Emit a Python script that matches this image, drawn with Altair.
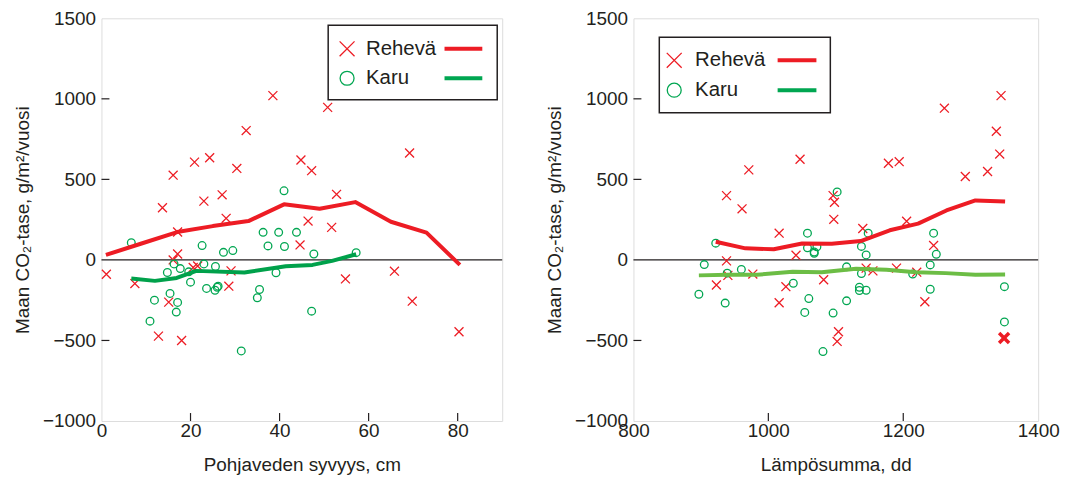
import altair as alt
import pandas as pd

# ---------------- data ----------------
# Left panel: groundwater depth (cm) vs soil CO2 balance
left_reheva_x = [38.5, 50.8, 32.5, 69.2, 16.1, 20.9, 24.3, 30.4, 44.8, 47.2, 13.7, 23.0, 27.1, 17.1,
                 28.0, 46.4, 52.8, 51.7, 44.6, 17.1, 16.1, 20.6, 21.6, 29.1, 1.1, 7.5, 28.6, 54.8,
                 65.8, 69.8, 15.1, 12.8, 18.0, 80.3]
left_reheva_y = [1020, 947, 803, 664, 526, 607, 634, 568, 620, 554, 324, 365, 404, 173,
                 258, 241, 407, 202, 93, 37, 0, -47, -38, -68, -89, -147, -163, -118,
                 -70, -256, -262, -473, -500, -446]
left_karu_x = [41.0, 6.7, 22.6, 36.3, 39.8, 43.8, 37.4, 41.1, 27.4, 29.5, 47.7, 57.2, 16.3, 17.7,
               19.6, 23.0, 25.6, 14.8, 20.0, 39.2, 23.6, 25.5, 26.2, 26.0, 15.4, 11.9, 17.1, 16.8,
               10.9, 35.5, 35.0, 47.2, 31.4]
left_karu_y = [429, 107, 89, 171, 171, 171, 87, 83, 47, 58, 37, 45, -25, -54,
               -74, -25, -41, -78, -138, -80, -177, -188, -163, -170, -208, -250, -264, -324,
               -380, -184, -235, -318, -565]
left_reheva_line_x = [1, 9, 17, 25, 33, 41, 49, 57, 65, 73, 80.5]
left_reheva_line_y = [31, 102, 173, 210, 241, 345, 318, 359, 237, 169, -31]
left_karu_line_x = [6.7, 12.0, 16.9, 21.3, 32.1, 41.4, 47.4, 51.8, 57.2]
left_karu_line_y = [-116, -130, -112, -68, -78, -39, -31, -6, 35]

# Right panel: temperature sum (dd) vs soil CO2 balance
right_reheva_x = [1345, 1261, 1338, 1343, 1325, 1292, 1178, 1194, 1047, 971, 938, 961, 1096, 1098,
                  1097, 1016, 1041, 1140, 1205, 1245, 938, 940, 923, 977, 1026, 1016, 1082, 1145,
                  1155, 1190, 1220, 1232, 1104, 1102]
right_reheva_y = [1020, 942, 799, 657, 549, 518, 600, 610, 625, 559, 399, 317, 399, 358,
                  252, 166, 29, 195, 240, 90, -6, -96, -156, -88, -166, -266, -123, -51,
                  -68, -51, -76, -260, -446, -506]
right_bold_x = [1349.5]
right_bold_y = [-485]
right_karu_x = [1102, 922, 1058, 1058, 1072, 1068, 1068, 1148, 1138, 1145, 1245, 1249, 905, 939,
                960, 1116, 1138, 1214, 1240, 1037, 1135, 1135, 1145, 1240, 897, 936, 1060, 1054,
                1096, 1116, 1350, 1350, 1081]
right_karu_y = [422, 104, 166, 75, 82, 49, 41, 166, 84, 31, 166, 35, -29, -82,
                -59, -43, -84, -88, -31, -145, -170, -190, -188, -182, -213, -268, -240, -326,
                -330, -254, -166, -385, -569]
right_reheva_line_x = [922, 966, 1008, 1050, 1094, 1137, 1180, 1222, 1264, 1307, 1351]
right_reheva_line_y = [113, 72, 66, 102, 100, 117, 184, 225, 307, 369, 362]
right_karu_line_x = [897, 940, 983, 1036, 1079, 1130, 1175, 1219, 1263, 1307, 1351]
right_karu_line_y = [-96, -92, -92, -74, -76, -55, -61, -76, -82, -92, -90]

y_ticks = [-1000, -500, 0, 500, 1000, 1500]
left_x_ticks = [0, 20, 40, 60, 80]
right_x_ticks = [800, 1000, 1200, 1400]
legend_labels = ["Rehevä", "Karu"]
y_title = "Maan CO₂-tase, g/m²/vuosi"

# ---------------- styling ----------------
RED = "#ed1c24"
GREEN = "#00a651"
GREEN_LINE_L = "#00a14b"
GREEN_LINE_R = "#6cbd45"
INK = "#231f20"
FONT = "Liberation Sans"
X_PATH = "M-1,-1L1,1M-1,1L1,-1"
H = 405


def enc_x(dom, ticks, title):
    return alt.X("x:Q", scale=alt.Scale(domain=dom, nice=False, zero=False),
                 axis=alt.Axis(values=ticks, title=title, format="d", ticks=False, domain=False,
                               grid=False, labelPadding=1, titlePadding=15, labelFontSize=19,
                               titleFontSize=19, labelColor=INK, titleColor=INK,
                               titleFontWeight="normal", labelFlush=False, labelOverlap=False,
                               labelFont=FONT, titleFont=FONT))


def enc_y():
    return alt.Y("y:Q", scale=alt.Scale(domain=[-1000, 1500], nice=False, zero=False),
                 axis=alt.Axis(values=y_ticks, title=y_title, format="d", ticks=False, domain=False,
                               grid=False, labelPadding=6, titlePadding=10, labelFontSize=19,
                               titleFontSize=19, labelColor=INK, titleColor=INK,
                               titleFontWeight="normal", labelFlush=False, labelOverlap=False,
                               labelFont=FONT, titleFont=FONT))


def df(xs, ys):
    return pd.DataFrame({"x": xs, "y": ys})


def panel(W, xdom, xticks, xtitle, rx, ry, kx, ky, rlx, rly, klx, kly, green_line_color,
          leg, bold=None):
    X = enc_x(xdom, xticks, xtitle)
    Y = enc_y()
    one = pd.DataFrame({"x": [xdom[0]], "y": [0]})
    layers = []
    # zero line
    layers.append(alt.Chart(one).mark_rule(color=INK, strokeWidth=1.2).encode(y=Y))
    # inside ticks
    layers.append(alt.Chart(pd.DataFrame({"y": [-500, 500, 1000]})).mark_rule(
        color=INK, strokeWidth=1.2).encode(y=Y, x=alt.value(0), x2=alt.value(8)))
    inner_x = [t for t in xticks if xdom[0] < t < xdom[1]]
    layers.append(alt.Chart(pd.DataFrame({"x": inner_x})).mark_rule(
        color=INK, strokeWidth=1.2).encode(x=X, y=alt.value(H), y2=alt.value(H - 8)))
    # scatter
    layers.append(alt.Chart(df(rx, ry)).mark_point(
        shape=X_PATH, size=81, strokeWidth=1.3, color=RED, filled=False, opacity=1).encode(x=X, y=Y))
    layers.append(alt.Chart(df(kx, ky)).mark_point(
        shape="circle", size=60, strokeWidth=1.3, color=GREEN, filled=False, opacity=1).encode(x=X, y=Y))
    if bold is not None:
        layers.append(alt.Chart(df(*bold)).mark_point(
            shape=X_PATH, size=100, strokeWidth=3.5, color=RED, filled=False, opacity=1).encode(x=X, y=Y))
    # smoothed lines
    layers.append(alt.Chart(df(rlx, rly)).mark_line(
        color=RED, strokeWidth=4, strokeJoin="round").encode(x=X, y=Y))
    layers.append(alt.Chart(df(klx, kly)).mark_line(
        color=green_line_color, strokeWidth=4, strokeJoin="round").encode(x=X, y=Y))
    # legend
    bx0, bx1, by0, by1, mx, tx, lx0, lx1, r1, r2 = leg
    layers.append(alt.Chart(one).mark_rect(fill="white", stroke=INK, strokeWidth=1.5).encode(
        x=alt.value(bx0), x2=alt.value(bx1), y=alt.value(by0), y2=alt.value(by1)))
    layers.append(alt.Chart(one).mark_point(
        shape=X_PATH, size=225, strokeWidth=1.3, color=RED, filled=False, opacity=1).encode(
        x=alt.value(mx), y=alt.value(r1)))
    layers.append(alt.Chart(one).mark_point(
        shape="circle", size=196, strokeWidth=1.3, color=GREEN, filled=False, opacity=1).encode(
        x=alt.value(mx), y=alt.value(r2)))
    for lab, ry_ in zip(legend_labels, [r1, r2]):
        layers.append(alt.Chart(one).mark_text(
            align="left", baseline="middle", fontSize=20.5, font=FONT, color=INK).encode(
            x=alt.value(tx), y=alt.value(ry_), text=alt.value(lab)))
    layers.append(alt.Chart(one).mark_rule(color=RED, strokeWidth=4).encode(
        x=alt.value(lx0), x2=alt.value(lx1), y=alt.value(r1)))
    layers.append(alt.Chart(one).mark_rule(color=GREEN, strokeWidth=4).encode(
        x=alt.value(lx0), x2=alt.value(lx1), y=alt.value(r2)))
    return alt.layer(*layers).properties(width=W, height=H)


left = panel(403, [0, 90], left_x_ticks, "Pohjaveden syvyys, cm",
             left_reheva_x, left_reheva_y, left_karu_x, left_karu_y,
             left_reheva_line_x, left_reheva_line_y, left_karu_line_x, left_karu_line_y,
             GREEN_LINE_L, (228, 398, 7, 82, 247, 266, 345, 383, 30.7, 60.3))
right = panel(407, [800, 1400], right_x_ticks, "Lämpösumma, dd",
              right_reheva_x, right_reheva_y, right_karu_x, right_karu_y,
              right_reheva_line_x, right_reheva_line_y, right_karu_line_x, right_karu_line_y,
              GREEN_LINE_R, (26, 198, 19, 95, 41, 62, 145, 184, 42.3, 72.3),
              bold=(right_bold_x, right_bold_y))

chart = alt.hconcat(left, right, spacing=41).resolve_scale(x="independent", y="independent").properties(
    padding={"top": -1, "left": 5, "right": 5, "bottom": 5}
).configure_view(stroke=INK, strokeWidth=1.3).configure(font=FONT, background="white")

chart.save("out.html", embed_options={"renderer": "svg", "actions": False})
